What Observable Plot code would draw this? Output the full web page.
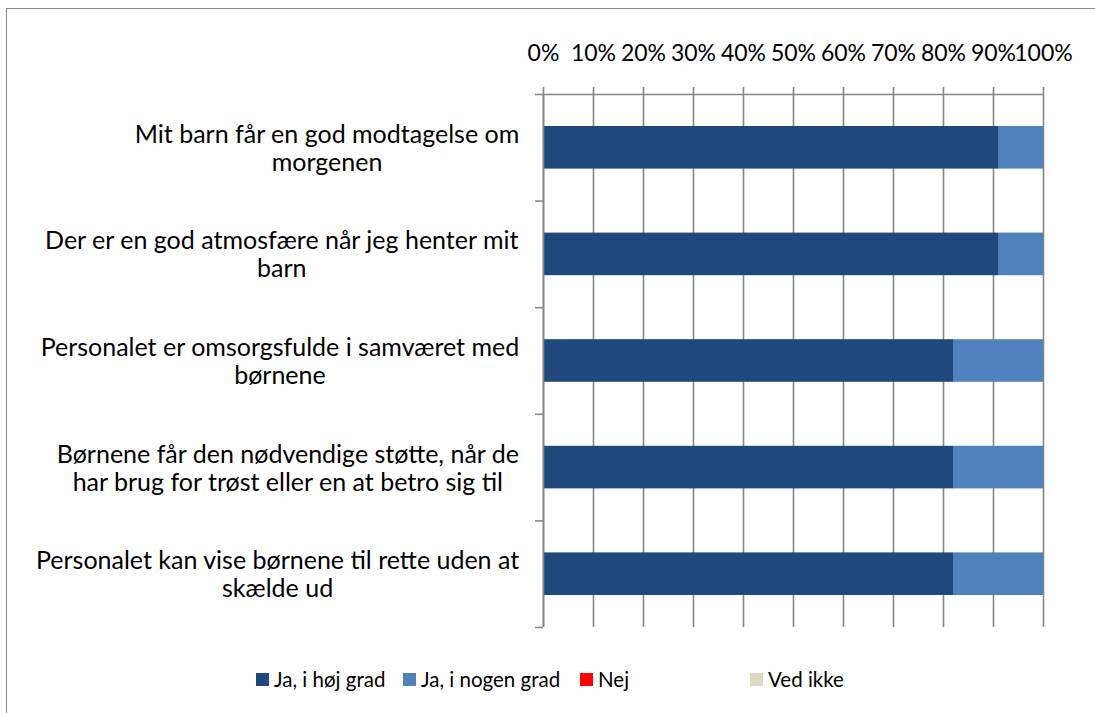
<!DOCTYPE html>
<html>
<head>
<meta charset="utf-8">
<script src="https://cdn.jsdelivr.net/npm/d3@7"></script>
<script src="https://cdn.jsdelivr.net/npm/@observablehq/plot@0.6"></script>
<style>
  html, body { margin: 0; padding: 0; background: #fff; width: 1095px; height: 713px; overflow: hidden; }
  #frame { position: absolute; left: 6px; top: 8px; width: 1200px; height: 800px; border-left: 1.5px solid #8a8a8a; border-top: 1.5px solid #8a8a8a; }
  #chart { position: absolute; left: 0; top: 0; }
  #legend { position: absolute; left: 256px; top: 667px; display: flex; font-family: Lato, "Open Sans", sans-serif; font-size: 20.5px; color: #000; }
  .item { display: flex; align-items: center; }
  .sw { width: 13px; height: 13px; margin-right: 5px; }
</style>
</head>
<body>
<div id="frame"></div>
<div id="chart"></div>
<div id="legend"></div>
<script>
const categories = [
  "Mit barn får en god modtagelse om\nmorgenen",
  "Der er en god atmosfære når jeg henter mit\nbarn",
  "Personalet er omsorgsfulde i samværet med\nbørnene",
  "Børnene får den nødvendige støtte, når de\nhar brug for trøst eller en at betro sig til",
  "Personalet kan vise børnene til rette uden at\nskælde ud"
];
const series = ["Ja, i høj grad", "Ja, i nogen grad", "Nej", "Ved ikke"];
const colors = ["#1F497D", "#4F81BD", "#FF0000", "#DDD9C3"];
const jaHoej   = [0.91, 0.91, 0.82, 0.82, 0.82];
const jaNogen  = [0.09, 0.09, 0.18, 0.18, 0.18];
const nej      = [0, 0, 0, 0, 0];
const vedIkke  = [0, 0, 0, 0, 0];
const xTicks = [0, 0.1, 0.2, 0.3, 0.4, 0.5, 0.6, 0.7, 0.8, 0.9, 1];
const legendSlotWidths = [147, 177, 170, 120];

const valuesBySeries = [jaHoej, jaNogen, nej, vedIkke];
const rows = [];
categories.forEach((c, i) => {
  let acc = 0;
  series.forEach((s, k) => {
    const v = valuesBySeries[k][i];
    rows.push({cat: c, idx: i, series: s, x1: acc, x2: acc + v});
    acc += v;
  });
});
const bars = rows.filter(d => d.x2 > d.x1);

const FONT = "Lato, 'Open Sans', sans-serif";
const LABEL_SIZE = 25;
const TICK_SIZE = 23;
const ctx = document.createElement("canvas").getContext("2d");
ctx.font = LABEL_SIZE + "px Lato";
const labelMarks = categories.map((c, i) => {
  const w = d3.max(c.split("\n"), l => ctx.measureText(l).width);
  return Plot.text([{t: c, y: i + 0.5}], {
    x: () => 0, y: "y", text: "t",
    textAnchor: "middle", lineAnchor: "middle", lineHeight: 1.12,
    dx: -(24 + w / 2), fontSize: LABEL_SIZE, fill: "#000"
  });
});

const plot = Plot.plot({
  width: 1095,
  height: 650,
  marginLeft: 543,
  marginRight: 52,
  marginTop: 94,
  marginBottom: 23,
  style: {fontFamily: FONT, fontSize: TICK_SIZE + "px", color: "#000", background: "transparent", overflow: "visible"},
  x: {domain: [0, 1], ticks: xTicks, axis: null},
  y: {domain: [0, 5], reverse: true, axis: null},
  color: {domain: series, range: colors},
  marks: [
    Plot.gridX(xTicks, {stroke: "#868686", strokeOpacity: 1, strokeWidth: 1.6}),
    Plot.rectX(bars, {x1: "x1", x2: "x2", y1: "idx", y2: d => d.idx + 1, fill: "series", insetTop: 32, insetBottom: 32}),
    Plot.axisX(xTicks, {anchor: "top", tickSize: 8, tickPadding: 26, tickFormat: d => Math.round(d * 100) + "%", stroke: "#868686", strokeWidth: 1.6, fontSize: TICK_SIZE, fill: "#000"}),
    Plot.axisY([0, 1, 2, 3, 4, 5], {anchor: "left", tickSize: 8, tickFormat: () => "", stroke: "#868686", strokeWidth: 1.6}),
    Plot.ruleY([0], {stroke: "#868686", strokeWidth: 1.6}),
    Plot.ruleX([0], {stroke: "#868686", strokeWidth: 1.6}),
    ...labelMarks
  ]
});
document.getElementById("chart").appendChild(plot);

const legend = document.getElementById("legend");
series.forEach((s, k) => {
  const item = document.createElement("div");
  item.className = "item";
  item.style.width = legendSlotWidths[k] + "px";
  const sw = document.createElement("div");
  sw.className = "sw";
  sw.style.background = colors[k];
  const t = document.createElement("span");
  t.textContent = s;
  item.appendChild(sw);
  item.appendChild(t);
  legend.appendChild(item);
});
</script>
</body>
</html>
